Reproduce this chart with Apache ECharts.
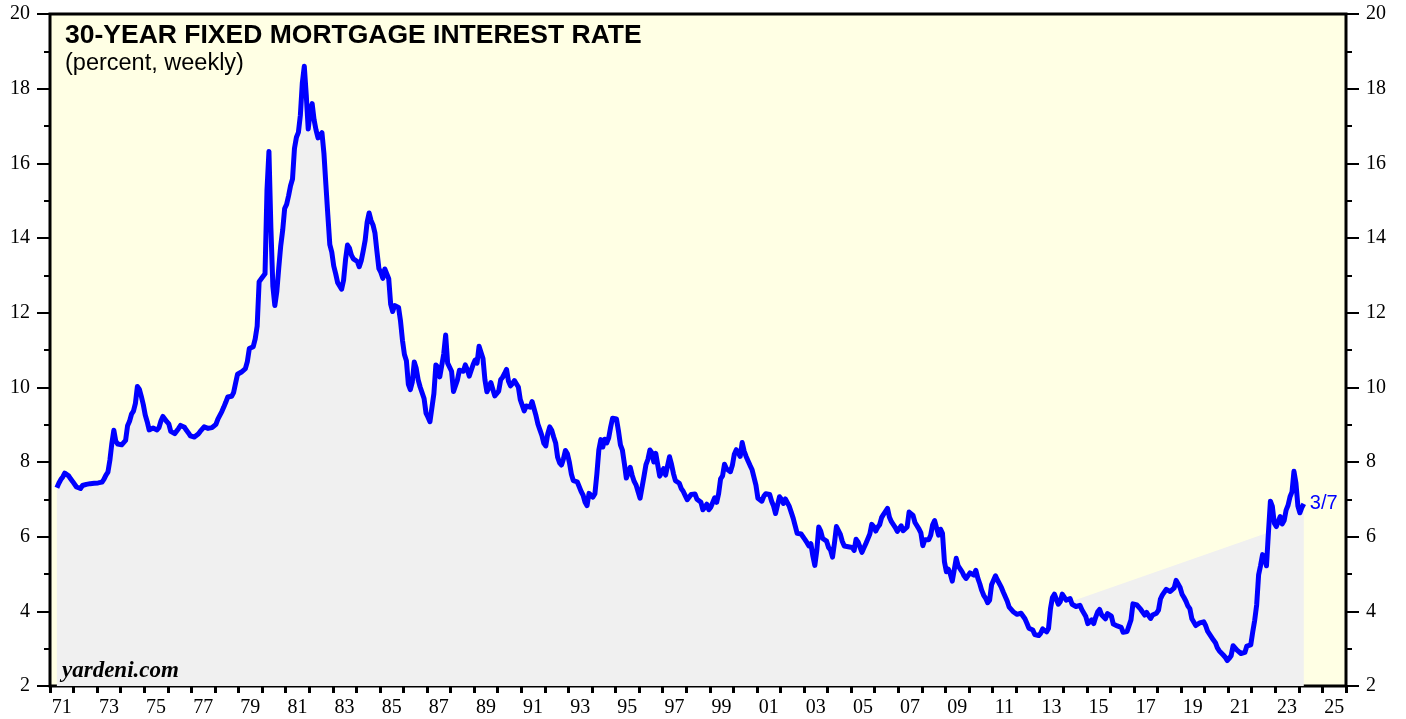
<!DOCTYPE html>
<html>
<head>
<meta charset="utf-8">
<title>30-Year Fixed Mortgage Interest Rate</title>
<script src="https://cdn.jsdelivr.net/npm/echarts/dist/echarts.min.js"></script>
<style>
    body { margin: 0; background: #fff; }
    #chart { width: 1406px; height: 719px; }
</style>
</head>
<body>
<div id="chart"></div>
<script>
// monthly averages, first value = April 1971
const START_YEAR = 1971;
const START_MONTH = 4;

const rates1970s = [
    7.31, 7.43, 7.53, 7.60, 7.70, 7.69, 7.63, 7.55, 7.48,
    7.44, 7.33, 7.29, 7.29, 7.37, 7.37, 7.40, 7.40, 7.42, 7.42, 7.43, 7.44,
    7.44, 7.44, 7.46, 7.54, 7.65, 7.73, 8.05, 8.50, 8.85, 8.56, 8.48, 8.47,
    8.46, 8.41, 8.58, 8.97, 9.09, 9.28, 9.36, 9.57, 10.02, 9.95, 9.76, 9.54,
    9.26, 9.08, 8.86, 8.82, 8.91, 8.91, 8.86, 8.92, 9.10, 9.22, 9.18, 9.08,
    9.02, 8.82, 8.78, 8.76, 8.80, 8.90, 8.98, 8.98, 8.93, 8.85, 8.78, 8.70,
    8.72, 8.67, 8.69, 8.75, 8.82, 8.86, 8.94, 8.94, 8.90, 8.92, 8.92, 8.96,
    9.01, 9.15, 9.20, 9.35, 9.47, 9.60, 9.74, 9.78, 9.76, 9.86, 10.11, 10.35,
    10.39, 10.41, 10.43, 10.50, 10.69, 11.04, 11.09, 11.09, 11.30, 11.64, 12.83, 12.90
];
const rates1980s = [
    12.88, 13.04, 15.28, 16.32, 14.26, 12.71, 12.19, 12.56, 13.20, 13.79, 14.21, 14.79,
    14.90, 15.13, 15.40, 15.58, 16.40, 16.70, 16.83, 17.29, 18.16, 18.60, 17.83, 16.92,
    17.40, 17.60, 17.16, 16.89, 16.68, 16.70, 16.82, 16.27, 15.43, 14.61, 13.82, 13.62,
    13.25, 13.04, 12.80, 12.78, 12.63, 12.87, 13.42, 13.81, 13.73, 13.54, 13.44, 13.42,
    13.37, 13.23, 13.39, 13.65, 13.94, 14.42, 14.67, 14.47, 14.35, 14.13, 13.64, 13.18,
    13.08, 12.92, 13.17, 13.20, 12.91, 12.22, 12.03, 12.19, 12.19, 12.14, 11.78, 11.26,
    10.88, 10.71, 10.08, 9.94, 10.14, 10.68, 10.51, 10.20, 10.01, 9.98, 9.70, 9.31,
    9.20, 9.08, 9.04, 9.83, 10.60, 10.54, 10.28, 10.33, 10.89, 11.40, 10.65, 10.65,
    10.43, 9.89, 9.93, 10.20, 10.46, 10.46, 10.43, 10.60, 10.48, 10.30, 10.27, 10.61,
    10.73, 10.65, 11.10, 11.05, 10.77, 10.20, 9.88, 9.99, 10.13, 9.95, 9.77, 9.74
];
const rates1990s = [
    9.90, 10.20, 10.27, 10.37, 10.48, 10.16, 10.04, 10.10, 10.18, 10.18, 10.01, 9.67,
    9.64, 9.37, 9.50, 9.49, 9.47, 9.62, 9.58, 9.24, 9.01, 8.86, 8.71, 8.50,
    8.43, 8.76, 8.94, 8.85, 8.67, 8.51, 8.13, 7.98, 7.92, 8.09, 8.31, 8.22,
    7.99, 7.68, 7.50, 7.47, 7.47, 7.42, 7.21, 7.11, 6.92, 6.83, 7.16, 7.17,
    7.06, 7.15, 7.68, 8.32, 8.60, 8.40, 8.61, 8.51, 8.64, 8.93, 9.17, 9.20,
    9.15, 8.83, 8.46, 8.32, 7.96, 7.57, 7.61, 7.86, 7.64, 7.48, 7.38, 7.20,
    7.03, 7.08, 7.62, 7.93, 8.07, 8.32, 8.25, 8.00, 8.23, 7.92, 7.62, 7.60,
    7.82, 7.65, 7.90, 8.14, 7.94, 7.69, 7.50, 7.48, 7.43, 7.29, 7.21, 7.10,
    6.99, 7.04, 7.13, 7.14, 7.14, 7.00, 6.95, 6.92, 6.72, 6.71, 6.87, 6.72,
    6.79, 6.81, 7.04, 6.92, 7.15, 7.55, 7.63, 7.94, 7.82, 7.85, 7.74, 7.91
];
const rates2000s = [
    8.21, 8.33, 8.24, 8.15, 8.52, 8.29, 8.15, 8.03, 7.91, 7.80, 7.75, 7.38,
    7.03, 7.05, 6.95, 7.08, 7.15, 7.16, 7.13, 6.95, 6.82, 6.62, 6.66, 7.07,
    7.00, 6.89, 7.01, 6.99, 6.81, 6.65, 6.49, 6.29, 6.09, 6.11, 6.07, 6.05,
    5.92, 5.84, 5.75, 5.81, 5.48, 5.23, 5.63, 6.26, 6.15, 5.95, 5.93, 5.88,
    5.71, 5.64, 5.45, 5.83, 6.27, 6.29, 6.06, 5.87, 5.75, 5.72, 5.73, 5.75,
    5.71, 5.63, 5.93, 5.86, 5.72, 5.58, 5.70, 5.82, 5.77, 6.07, 6.33, 6.27,
    6.15, 6.25, 6.32, 6.51, 6.60, 6.68, 6.76, 6.52, 6.40, 6.36, 6.24, 6.14,
    6.22, 6.29, 6.16, 6.18, 6.26, 6.66, 6.70, 6.57, 6.38, 6.38, 6.21, 6.10,
    5.76, 5.92, 5.97, 5.92, 6.04, 6.32, 6.43, 6.48, 6.04, 6.20, 6.09, 5.33,
    5.06, 5.13, 5.00, 4.81, 4.86, 5.42, 5.22, 5.19, 5.06, 4.95, 4.88, 4.93
];
const rates2010s = [
    5.03, 4.99, 4.97, 5.10, 4.89, 4.74, 4.56, 4.43, 4.35, 4.23, 4.30, 4.71,
    4.76, 4.95, 4.84, 4.84, 4.64, 4.51, 4.55, 4.27, 4.11, 4.07, 3.99, 3.96,
    3.92, 3.89, 3.95, 3.91, 3.80, 3.68, 3.55, 3.60, 3.50, 3.38, 3.35, 3.35,
    3.41, 3.53, 3.57, 3.45, 3.54, 4.07, 4.37, 4.46, 4.49, 4.19, 4.26, 4.46,
    4.43, 4.30, 4.34, 4.34, 4.19, 4.16, 4.13, 4.12, 4.16, 4.04, 4.00, 3.86,
    3.67, 3.71, 3.77, 3.67, 3.84, 3.98, 4.05, 3.91, 3.89, 3.80, 3.94, 3.96,
    3.87, 3.66, 3.69, 3.61, 3.60, 3.57, 3.44, 3.44, 3.46, 3.47, 3.77, 4.20,
    4.15, 4.17, 4.20, 4.05, 4.01, 3.90, 3.97, 3.88, 3.81, 3.90, 3.92, 3.95,
    4.03, 4.33, 4.44, 4.47, 4.59, 4.57, 4.53, 4.55, 4.63, 4.83, 4.87, 4.64,
    4.46, 4.37, 4.27, 4.14, 4.07, 3.80, 3.77, 3.62, 3.61, 3.69, 3.70, 3.72
];
const rates2020s = [
    3.62, 3.47, 3.45, 3.31, 3.23, 3.16, 3.02, 2.94, 2.89, 2.83, 2.77, 2.68,
    2.74, 2.81, 3.08, 3.06, 2.96, 2.98, 2.87, 2.84, 2.90, 3.07, 3.07, 3.10,
    3.45, 3.76, 4.17, 4.98, 5.23, 5.52, 5.41, 5.22, 6.11, 6.95, 6.81, 6.36,
    6.27, 6.26, 6.54, 6.34, 6.43, 6.71, 6.84, 7.07, 7.20, 7.75, 7.44, 6.82,
    6.64, 6.78, 6.88
];

const yearLabels = [
    '71', '72', '73', '74', '75', '76', '77', '78', '79', '80',
    '81', '82', '83', '84', '85', '86', '87', '88', '89', '90',
    '91', '92', '93', '94', '95', '96', '97', '98', '99', '00',
    '01', '02', '03', '04', '05', '06', '07', '08', '09', '10',
    '11', '12', '13', '14', '15', '16', '17', '18', '19', '20',
    '21', '22', '23', '24', '25'
];
const lastLabel = '3/7';
// the shaded area in the original skips this stretch
const fillGap = [2013.5, 2022.7];

const monthly = [].concat(rates1970s, rates1980s, rates1990s, rates2000s, rates2010s, rates2020s);
const points = monthly.map((v, i) => [START_YEAR + (START_MONTH - 1 + i + 0.5) / 12, v]);
const fillPoints = points.filter(p => p[0] < fillGap[0] || p[0] > fillGap[1]);

const tickFont = { fontFamily: 'Liberation Serif', fontSize: 20, color: '#000' };

function yAxisFor(position) {
    return {
        type: 'value',
        position: position,
        min: 2,
        max: 20,
        interval: 2,
        axisLine: { show: false },
        axisTick: { show: true, length: 13, lineStyle: { color: '#000', width: 2 } },
        minorTick: { show: true, splitNumber: 2, length: 6, lineStyle: { color: '#000', width: 2 } },
        axisLabel: Object.assign({ margin: 20 }, tickFont),
        splitLine: { show: false }
    };
}

const chart = echarts.init(document.getElementById('chart'));
chart.setOption({
    animation: false,
    backgroundColor: '#fff',
    title: {
        text: '30-YEAR FIXED MORTGAGE INTEREST RATE',
        subtext: '(percent, weekly)',
        left: 65,
        top: 22,
        padding: 0,
        itemGap: 3,
        textStyle: { fontFamily: 'Liberation Sans', fontWeight: 'bold', fontSize: 26.5, color: '#000' },
        subtextStyle: { fontFamily: 'Liberation Sans', fontSize: 23.5, color: '#000' }
    },
    grid: {
        left: 50,
        right: 60,
        top: 14,
        bottom: 33,
        show: true,
        backgroundColor: '#ffffe4',
        borderColor: '#000',
        borderWidth: 3
    },
    xAxis: [
        { type: 'value', min: 1971, max: 2026, show: false },
        {
            type: 'category',
            data: yearLabels,
            boundaryGap: true,
            position: 'bottom',
            axisLine: { show: false },
            axisTick: { show: true, interval: 0, length: 7, lineStyle: { color: '#000', width: 3 } },
            axisLabel: Object.assign({ interval: 1, margin: 12 }, tickFont),
            splitLine: { show: false }
        }
    ],
    yAxis: [yAxisFor('left'), yAxisFor('right')],
    graphic: [{
        type: 'text',
        left: 62,
        top: 660,
        z: 10,
        style: { text: 'yardeni.com', font: 'italic bold 23px "Liberation Serif"', fill: '#000' }
    }],
    series: [
        {
            type: 'line',
            data: fillPoints,
            xAxisIndex: 0,
            yAxisIndex: 0,
            symbol: 'none',
            silent: true,
            lineStyle: { width: 0 },
            areaStyle: { color: '#f0f0f0', opacity: 1, origin: 'start' },
            z: 1
        },
        {
            type: 'line',
            data: points,
            xAxisIndex: 0,
            yAxisIndex: 0,
            symbol: 'none',
            lineStyle: { color: '#0000ff', width: 5, join: 'round' },
            endLabel: {
                show: true,
                formatter: lastLabel,
                color: '#0000ff',
                fontFamily: 'Liberation Sans',
                fontSize: 20,
                distance: 6
            },
            z: 3
        }
    ]
});
</script>
</body>
</html>
